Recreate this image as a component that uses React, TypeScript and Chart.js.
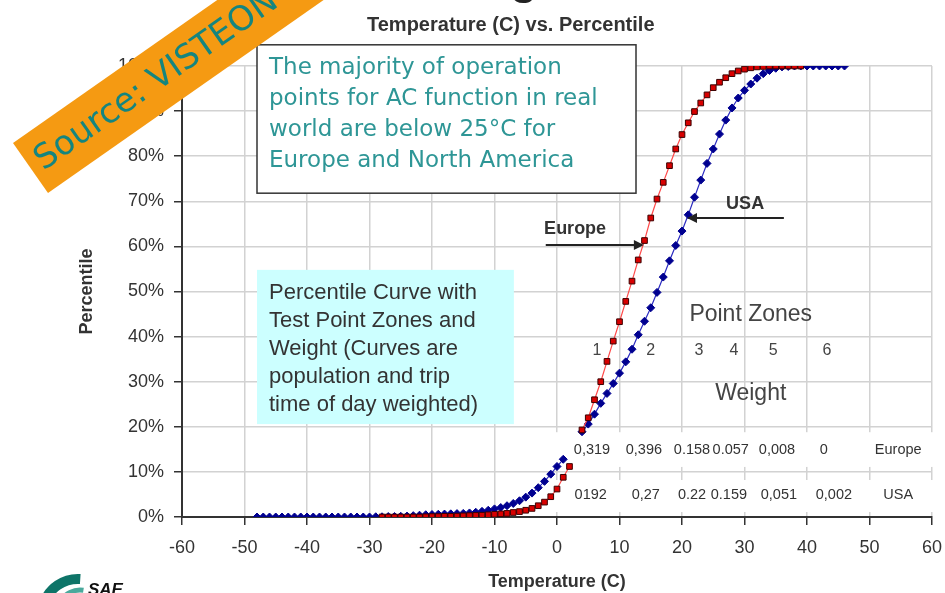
import React, { useEffect, useRef } from 'react';
import { Chart, registerables } from 'chart.js';

Chart.register(...registerables);

// ---------- data ----------
const europeTemps = [
  -28, -27, -26, -25, -24, -23, -22, -21, -20, -19, -18, -17, -16, -15, -14, -13, -12, -11, -10,
  -9, -8, -7, -6, -5, -4, -3, -2, -1, 0, 1, 2, 3, 4, 5, 6, 7, 8, 9, 10, 11, 12, 13, 14, 15, 16, 17,
  18, 19, 20, 21, 22, 23, 24, 25, 26, 27, 28, 29, 30, 31, 32, 33, 34, 35, 36, 37, 38, 39,
];
const europePct = [
  0, 0, 0, 0, 0, 0, 0, 0.05, 0.1, 0.1, 0.15, 0.15, 0.2, 0.25, 0.3, 0.35, 0.4, 0.5, 0.6,
  0.7, 0.8, 1.0, 1.2, 1.5, 1.9, 2.5, 3.3, 4.5, 6.2, 8.8, 11.2, null, 19.3, 22.0, 26.0, 30.0, 34.5, 39.0, 43.3, 47.8, 52.3, 57.0, 61.3, 66.3, 70.5, 74.2,
  77.9, 81.6, 84.8, 87.4, 89.9, 91.8, 93.6, 95.2, 96.4, 97.4, 98.3, 98.9, 99.3, 99.6, 99.8, 99.9, 100, 100, 100, 100, 100, 100,
];
const usaTemps = [
  -48, -47, -46, -45, -44, -43, -42, -41, -40, -39, -38, -37, -36, -35, -34, -33, -32, -31, -30,
  -29, -28, -27, -26, -25, -24, -23, -22, -21, -20, -19, -18, -17, -16, -15, -14, -13, -12, -11, -10,
  -9, -8, -7, -6, -5, -4, -3, -2, -1, 0, 1, 2, 3, 4, 5, 6, 7, 8, 9, 10, 11, 12, 13, 14, 15, 16, 17,
  18, 19, 20, 21, 22, 23, 24, 25, 26, 27, 28, 29, 30, 31, 32, 33, 34, 35, 36, 37, 38, 39, 40, 41, 42,
  43, 44, 45, 46,
];
const usaPct = [
  0, 0, 0, 0, 0, 0, 0, 0, 0, 0, 0, 0, 0, 0, 0, 0, 0, 0, 0,
  0.05, 0.05, 0.1, 0.1, 0.15, 0.2, 0.3, 0.4, 0.5, 0.55, 0.6, 0.65, 0.7, 0.75, 0.8, 0.9, 1.05, 1.25, 1.5, 1.8,
  2.1, 2.5, 3.0, 3.6, 4.4, 5.3, 6.5, 7.9, 9.5, 11.2, 12.8, null, null, 18.9, 20.6, 22.8, 25.2, 27.4, 29.6, 31.9, 34.4, 37.2, 40.4, 43.4, 46.4, 49.8, 53.2,
  56.8, 60.2, 63.4, 67.0, 70.9, 74.7, 78.4, 81.6, 84.9, 88.0, 90.7, 92.9, 94.6, 96.0, 97.3, 98.3, 99.0, 99.5, 99.8, 99.9, 100, 100, 100, 100,
  100, 100, 100, 100, 100,
];

const zoneLabels = ['1', '2', '3', '4', '5', '6'];
const weightsEurope = ['0,319', '0,396', '0.158', '0.057', '0,008', '0'];
const weightsUSA = ['0192', '0,27', '0.22', '0.159', '0,051', '0,002'];
const rowLabels = ['Europe', 'USA'];

const chartTitle = 'Temperature (C) vs. Percentile';
const xTitle = 'Temperature (C)';
const yTitle = 'Percentile';
const noteMain = [
  'The majority of operation',
  'points for AC function in real',
  'world are below 25°C for',
  'Europe and North America',
];
const noteCurve = [
  'Percentile Curve with',
  'Test Point Zones and',
  'Weight (Curves are',
  'population and trip',
  'time of day weighted)',
];
const sourceText = 'Source: VISTEON';

// ---------- layout (temperature / percent coordinates of annotations) ----------
const zoneLabelX = [6.4, 15.0, 22.7, 28.3, 34.6, 43.2];
const europeColX = [5.6, 13.9, 21.6, 27.8, 35.2, 42.7];
const usaColX = [5.4, 14.2, 21.6, 27.5, 35.5, 44.3];
const rowLabelX = 54.6;

const SANS = '"Liberation Sans", Arial, Helvetica, sans-serif';
const VERD = '"DejaVu Sans", Verdana, sans-serif';

function toPoints(xs: number[], ys: (number | null)[]) {
  return xs.map((x, i) => ({ x, y: ys[i] }));
}

function arrow(ctx: CanvasRenderingContext2D, x1: number, y1: number, x2: number, y2: number) {
  const a = Math.atan2(y2 - y1, x2 - x1);
  const len = 10;
  const hw = 5;
  ctx.beginPath();
  ctx.moveTo(x1, y1);
  ctx.lineTo(x2 - Math.cos(a) * len * 0.8, y2 - Math.sin(a) * len * 0.8);
  ctx.stroke();
  ctx.beginPath();
  ctx.moveTo(x2, y2);
  ctx.lineTo(x2 - Math.cos(a) * len - Math.sin(a) * hw, y2 - Math.sin(a) * len + Math.cos(a) * hw);
  ctx.lineTo(x2 - Math.cos(a) * len + Math.sin(a) * hw, y2 - Math.sin(a) * len - Math.cos(a) * hw);
  ctx.closePath();
  ctx.fill();
}

const overlay = {
  id: 'overlay',
  beforeDatasetsDraw(chart: any) {
    const ctx: CanvasRenderingContext2D = chart.ctx;
    const X = (v: number) => chart.scales.x.getPixelForValue(v);
    const Y = (v: number) => chart.scales.y.getPixelForValue(v);
    ctx.save();
    // weight table rows (white)
    ctx.fillStyle = '#ffffff';
    const l = X(-0.9);
    const r = Math.min(X(60.5), chart.width);
    ctx.fillRect(l, Y(18.8), r - l, Y(11.1) - Y(18.8));
    ctx.fillRect(l, Y(8.2), r - l, Y(1.1) - Y(8.2));
    ctx.fillStyle = '#333';
    ctx.font = `14.5px ${SANS}`;
    ctx.textAlign = 'center';
    ctx.textBaseline = 'middle';
    weightsEurope.forEach((t, i) => ctx.fillText(t, X(europeColX[i]), Y(14.9)));
    weightsUSA.forEach((t, i) => ctx.fillText(t, X(usaColX[i]), Y(4.9)));
    ctx.fillText(rowLabels[0], X(rowLabelX), Y(14.9));
    ctx.fillText(rowLabels[1], X(rowLabelX), Y(4.9));

    // cyan note box
    const bx = X(-48), by = Y(54.8);
    ctx.fillStyle = '#ccffff';
    ctx.fillRect(bx, by, X(-6.9) - bx, Y(20.6) - by);
    ctx.fillStyle = '#333';
    ctx.font = `22px ${SANS}`;
    ctx.textAlign = 'left';
    noteCurve.forEach((t, i) => ctx.fillText(t, bx + 12, by + 23 + i * 28));

    // point zones text
    ctx.textAlign = 'center';
    ctx.fillStyle = '#444';
    ctx.font = `23px ${SANS}`;
    ctx.fillText('Point Zones', X(31), Y(44.8));
    ctx.fillText('Weight', X(31), Y(27.3));
    ctx.font = `16px ${SANS}`;
    zoneLabels.forEach((t, i) => ctx.fillText(t, X(zoneLabelX[i]), Y(37)));
    ctx.restore();
  },
  afterDraw(chart: any) {
    const ctx: CanvasRenderingContext2D = chart.ctx;
    const X = (v: number) => chart.scales.x.getPixelForValue(v);
    const Y = (v: number) => chart.scales.y.getPixelForValue(v);
    ctx.save();

    // main note box
    const bx = X(-48), by = Y(104.7);
    const bw = X(12.64) - bx, bh = Y(71.8) - by;
    ctx.fillStyle = '#fff';
    ctx.fillRect(bx, by, bw, bh);
    ctx.strokeStyle = '#333';
    ctx.lineWidth = 1.5;
    ctx.strokeRect(bx, by, bw, bh);
    ctx.fillStyle = '#2e9696';
    ctx.font = `23px ${VERD}`;
    ctx.textAlign = 'left';
    ctx.textBaseline = 'middle';
    noteMain.forEach((t, i) => ctx.fillText(t, bx + 12, by + 23 + i * 31));

    // arrows and labels
    ctx.strokeStyle = '#222';
    ctx.fillStyle = '#222';
    ctx.lineWidth = 2;
    arrow(ctx, X(-1.8), Y(60.3), X(13.9), Y(60.3));
    arrow(ctx, X(36.3), Y(66.3), X(20.8), Y(66.3));
    ctx.fillStyle = '#333';
    ctx.font = `bold 18px ${SANS}`;
    ctx.textAlign = 'center';
    ctx.fillText('Europe', X(2.9), Y(63.9));
    ctx.fillText('USA', X(30.1), Y(69.4));

    // chart title
    ctx.font = `bold 20px ${SANS}`;
    ctx.fillText(chartTitle, X(-7.4), 25);

    // clipped top glyph of slide title
    ctx.fillStyle = '#222';
    ctx.font = `bold 44px ${SANS}`;
    ctx.textBaseline = 'alphabetic';
    ctx.fillText('g', X(-5.3), -6);

    // source banner
    ctx.save();
    ctx.translate(30.5, 168);
    ctx.rotate((-35 * Math.PI) / 180);
    ctx.fillStyle = '#f59a12';
    ctx.fillRect(0, -30.5, 520, 61);
    ctx.fillStyle = '#15857f';
    ctx.font = `34px ${VERD}`;
    ctx.textAlign = 'left';
    ctx.textBaseline = 'middle';
    ctx.fillText(sourceText, 9, 1);
    ctx.restore();

    // SAE logo fragment
    ctx.lineCap = 'butt';
    ctx.strokeStyle = '#0e7468';
    ctx.lineWidth = 10;
    ctx.beginPath();
    ctx.arc(78, 615, 36, Math.PI * 1.1, Math.PI * 1.52);
    ctx.stroke();
    ctx.strokeStyle = '#4aa99c';
    ctx.lineWidth = 5;
    ctx.beginPath();
    ctx.arc(80, 612, 22, Math.PI * 1.15, Math.PI * 1.55);
    ctx.stroke();
    ctx.fillStyle = '#111';
    ctx.font = `italic bold 17px ${SANS}`;
    ctx.textAlign = 'left';
    ctx.fillText('SAE', 88, 595);

    ctx.restore();
  },
};

export default function App() {
  const ref = useRef<HTMLCanvasElement>(null);
  useEffect(() => {
    if (!ref.current) return;
    Chart.defaults.font.family = SANS;
    const chart = new Chart(ref.current, {
      type: 'line',
      data: {
        datasets: [
          {
            label: 'Europe',
            data: toPoints(europeTemps, europePct) as any,
            borderColor: '#ff4a4a',
            borderWidth: 1.2,
            pointStyle: 'rect',
            pointRadius: 4,
            pointBackgroundColor: '#d80000',
            pointBorderColor: '#3a0000',
            pointBorderWidth: 1,
            spanGaps: false,
            tension: 0,
          },
          {
            label: 'USA',
            data: toPoints(usaTemps, usaPct) as any,
            borderColor: '#2b2bc0',
            borderWidth: 1.2,
            pointStyle: 'rectRot',
            pointRadius: 4,
            pointBackgroundColor: '#000090',
            pointBorderColor: '#000090',
            pointBorderWidth: 1,
            spanGaps: false,
            tension: 0,
          },
        ],
      },
      options: {
        animation: false,
        responsive: true,
        maintainAspectRatio: false,
        layout: { padding: { top: 66, right: 13, left: 0, bottom: 0 } },
        plugins: {
          legend: { display: false },
          tooltip: { enabled: false },
          title: { display: false },
        },
        scales: {
          x: {
            type: 'linear',
            min: -60,
            max: 60,
            ticks: {
              stepSize: 10,
              color: '#333',
              font: { size: 18, family: SANS },
              padding: 12,
              maxRotation: 0,
              autoSkip: false,
            },
            grid: {
              color: '#d2d2d2',
              lineWidth: 1.5,
              tickColor: '#333',
              tickLength: 8,
              tickWidth: 1.5,
            },
            border: { color: '#333', width: 2 },
            title: {
              display: true,
              text: xTitle,
              color: '#333',
              font: { size: 18, weight: 'bold', family: SANS },
              padding: { top: 0, bottom: 0 },
            },
            afterFit: (s: any) => {
              s.height = 76;
              s.paddingRight = 0;
              s.paddingLeft = 0;
            },
          },
          y: {
            min: 0,
            max: 100,
            ticks: {
              stepSize: 10,
              color: '#333',
              font: { size: 18, family: SANS },
              padding: 10,
              callback: (v: any) => v + '%',
            },
            grid: {
              color: '#d2d2d2',
              lineWidth: 1.5,
              tickColor: '#333',
              tickLength: 8,
              tickWidth: 1.5,
            },
            border: { color: '#333', width: 2 },
            title: {
              display: true,
              text: yTitle,
              color: '#333',
              font: { size: 18, weight: 'bold', family: SANS },
              padding: { top: 76, bottom: 0 },
            },
            afterFit: (s: any) => {
              s.width = 182;
              s.paddingTop = 0;
              s.paddingBottom = 0;
            },
          },
        },
      },
      plugins: [overlay],
    });
    return () => chart.destroy();
  }, []);
  return (
    <div style={{ position: 'absolute', left: 0, top: 0, width: 945, height: 593, background: '#fff' }}>
      <canvas ref={ref} />
    </div>
  );
}
